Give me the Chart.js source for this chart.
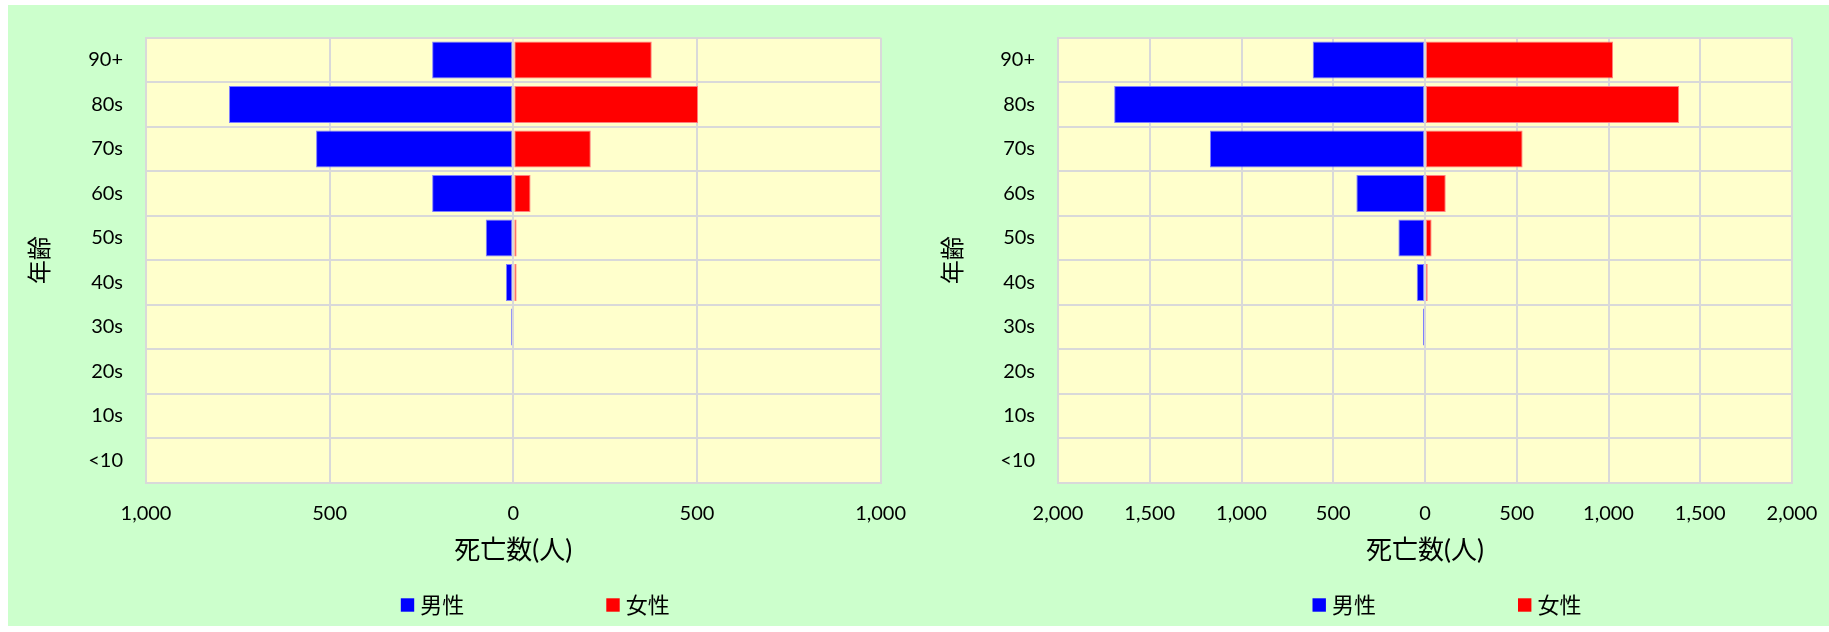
<!DOCTYPE html>
<html lang="ja">
<head>
<meta charset="utf-8">
<script src="https://cdn.jsdelivr.net/npm/chart.js@4.4.1/dist/chart.umd.min.js"></script>
<style>
  html, body { margin: 0; padding: 0; background: #ffffff; }
  body { width: 1829px; height: 632px; position: relative; overflow: hidden; }
  #panel { position: absolute; left: 8px; top: 5px; width: 1821px; height: 621px; background: #CCFFCC; }
  #panel canvas { position: absolute; top: 0; }
  #deathsA { left: 0; }
  #deathsB { left: 907px; }
</style>
</head>
<body>
<div id="panel">
  <canvas id="deathsA" width="907" height="621"></canvas>
  <canvas id="deathsB" width="914" height="621"></canvas>
</div>
<script>
// Age bands, top row first
const ageGroups = ['90+', '80s', '70s', '60s', '50s', '40s', '30s', '20s', '10s', '<10'];
const seriesNames = ['男性', '女性'];
const seriesColors = ['#0000FF', '#FF0000'];
const seriesEdges = ['#7F7FFF', '#FF7F7F'];

// Deaths per age band (people)
const maleA   = [221, 774, 537, 221, 75, 20, 6, 0, 0, 0];
const femaleA = [377, 503, 211, 47, 9, 9, 0, 0, 0, 0];
const maleB   = [612, 1694, 1172, 374, 145, 45, 11, 3, 0, 0];
const femaleB = [1025, 1385, 532, 113, 36, 15, 4, 0, 0, 0];

// Axis extents and tick spacing
const axisLimitA = 1000;
const axisLimitB = 2000;
const tickStep = 500;

const xTitle = '死亡数(人)';
const yTitle = '年齢';

const FONT = 'Lato, "Noto Sans CJK JP", sans-serif';
const GRID = '#D9D9D9';
const CLEAR = 'rgba(0,0,0,0)';

// Pale yellow plot area
const plotBackground = {
  id: 'plotBackground',
  beforeDraw(chart) {
    const { ctx, chartArea: a } = chart;
    ctx.save();
    ctx.fillStyle = '#FFFFCC';
    ctx.fillRect(a.left, a.top, a.width, a.height);
    ctx.restore();
  }
};

// Vertical axis line at zero, kept above the bars
const zeroLine = {
  id: 'zeroLine',
  afterDatasetsDraw(chart) {
    const { ctx, chartArea: a } = chart;
    const x = Math.round(chart.scales.x.getPixelForValue(0));
    ctx.save();
    ctx.strokeStyle = GRID;
    ctx.lineWidth = 2;
    ctx.beginPath();
    ctx.moveTo(x, a.top);
    ctx.lineTo(x, a.bottom);
    ctx.stroke();
    ctx.restore();
  }
};

// Widely spaced legend under the axis title
const bottomLegend = {
  id: 'bottomLegend',
  afterDraw(chart) {
    const { ctx, chartArea: a } = chart;
    const cx = chart.scales.x.getPixelForValue(0);
    const cy = a.bottom + 122.3;
    const offsets = [-112.5, 93];
    ctx.save();
    ctx.font = '22px ' + FONT;
    ctx.textBaseline = 'middle';
    ctx.textAlign = 'left';
    chart.data.datasets.forEach((ds, i) => {
      const bx = cx + offsets[i];
      ctx.fillStyle = ds.backgroundColor;
      ctx.fillRect(bx, cy - 6.7, 13.4, 13.4);
      ctx.fillStyle = '#000000';
      ctx.fillText(ds.label, bx + 19.5, cy + 1);
    });
    ctx.restore();
  }
};

function makeChart(canvasId, male, female, limit, layoutSpec) {
  const datasets = [male.map(v => -v), female].map((values, i) => ({
    label: seriesNames[i],
    data: values,
    backgroundColor: seriesColors[i],
    borderColor: seriesEdges[i],
    borderWidth: 1,
    borderSkipped: false,
    categoryPercentage: 1,
    barPercentage: 0.83
  }));

  return new Chart(document.getElementById(canvasId), {
    type: 'bar',
    data: { labels: ageGroups, datasets },
    plugins: [plotBackground, zeroLine, bottomLegend],
    options: {
      indexAxis: 'y',
      responsive: false,
      animation: false,
      devicePixelRatio: 1,
      layout: {
        padding: { left: 0, top: 32.7, right: layoutSpec.padRight, bottom: 50 }
      },
      plugins: {
        legend: { display: false },
        tooltip: { enabled: false }
      },
      scales: {
        x: {
          type: 'linear',
          stacked: true,
          min: -limit,
          max: limit,
          afterFit(scale) { scale.height = 93.3; },
          ticks: {
            stepSize: tickStep,
            padding: 0,
            color: '#000000',
            font: { family: FONT, size: 20 },
            maxRotation: 0,
            callback: v => Math.abs(v).toLocaleString('en-US')
          },
          grid: { color: GRID, lineWidth: 2, drawTicks: true, tickLength: 19, tickColor: CLEAR },
          border: { color: GRID, width: 2 },
          title: {
            display: true,
            text: xTitle,
            color: '#000000',
            font: { family: FONT, size: 26 },
            padding: { top: 0, bottom: 9.4 }
          }
        },
        y: {
          type: 'category',
          stacked: true,
          afterFit(scale) { scale.width = layoutSpec.yWidth; },
          ticks: {
            padding: 0,
            color: '#000000',
            font: { family: FONT, size: 20 }
          },
          grid: { color: GRID, lineWidth: 2, drawTicks: true, tickLength: 23, tickColor: CLEAR, offset: true },
          border: { color: GRID, width: 2 },
          title: {
            display: true,
            text: yTitle,
            color: '#000000',
            font: { family: FONT, size: 24 },
            padding: { top: layoutSpec.yTitlePad, bottom: 0 }
          }
        }
      }
    }
  });
}

makeChart('deathsA', maleA, femaleA, axisLimitA, { yWidth: 138, padRight: 34.4, yTitlePad: 17.6 });
makeChart('deathsB', maleB, femaleB, axisLimitB, { yWidth: 143, padRight: 37, yTitlePad: 23.6 });
</script>
</body>
</html>
